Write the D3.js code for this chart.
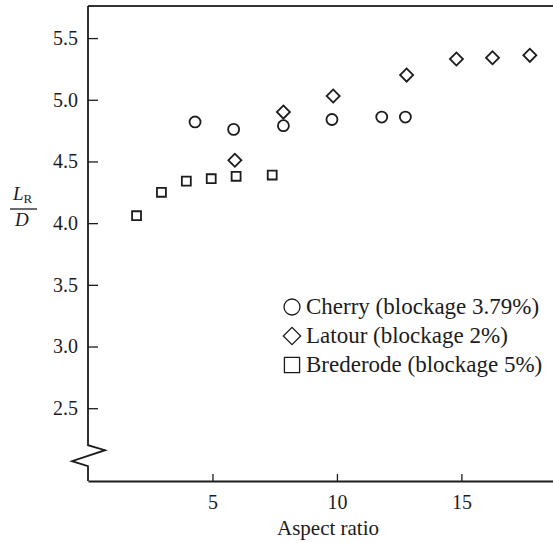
<!DOCTYPE html>
<html>
<head>
<meta charset="utf-8">
<script src="https://cdn.jsdelivr.net/npm/d3@7"></script>
<style>
  html, body { margin: 0; padding: 0; background: #fff; }
  svg { display: block; }
  svg text { font-family: "Liberation Serif", "Times New Roman", Tinos, "DejaVu Serif", "Noto Serif", serif; }
</style>
</head>
<body>
<svg id="chart" width="553" height="543"></svg>
<script>
// Data
const cherryX = [4.3, 5.85, 7.85, 9.8, 11.8, 12.75];
const cherryY = [4.82, 4.76, 4.79, 4.84, 4.86, 4.86];
const latourX = [5.9, 7.85, 9.85, 12.8, 14.8, 16.25, 17.75];
const latourY = [4.51, 4.90, 5.03, 5.20, 5.33, 5.34, 5.36];
const brederodeX = [1.95, 2.95, 3.95, 4.95, 5.95, 7.4];
const brederodeY = [4.06, 4.25, 4.34, 4.36, 4.38, 4.39];

const xTicks = [5, 10, 15];
const yTicks = [2.5, 3.0, 3.5, 4.0, 4.5, 5.0, 5.5];

const legendLabels = [
  'Cherry (blockage 3.79%)',
  'Latour (blockage 2%)',
  'Brederode (blockage 5%)'
];

const ink = '#1c1c1c';
const W = 553, H = 543;
const plotLeft = 88, plotTop = 6, plotBottom = 481;

const svg = d3.select('#chart');

const x = d3.scaleLinear().domain([0, 18.68]).range([plotLeft, W]);
const y = d3.scaleLinear().domain([1.91, 5.76]).range([plotBottom, plotTop]);

// Top frame line
svg.append('line')
  .attr('x1', plotLeft).attr('x2', W)
  .attr('y1', plotTop).attr('y2', plotTop)
  .attr('stroke', '#333').attr('stroke-width', 2);

// X axis
const xAxis = svg.append('g')
  .attr('transform', `translate(0,${plotBottom})`)
  .call(d3.axisBottom(x).tickValues(xTicks).tickFormat(d3.format('d'))
    .tickSizeInner(-7).tickSizeOuter(0).tickPadding(14));
xAxis.attr('font-family', null);
xAxis.select('.domain').attr('stroke', ink).attr('stroke-width', 2);
xAxis.selectAll('.tick line').attr('stroke', ink).attr('stroke-width', 1.3);
xAxis.selectAll('text')
  .attr('fill', ink)
  .attr('font-size', 20);

// Y axis
const yAxis = svg.append('g')
  .attr('transform', `translate(${plotLeft},0)`)
  .call(d3.axisLeft(y).tickValues(yTicks).tickFormat(d3.format('.1f'))
    .tickSizeInner(-10).tickSizeOuter(0).tickPadding(10));
yAxis.attr('font-family', null);
yAxis.select('.domain').remove();
yAxis.selectAll('.tick line').attr('stroke', ink).attr('stroke-width', 1.3);
yAxis.selectAll('text')
  .attr('fill', ink)
  .attr('font-size', 20);

// Y axis line with the break symbol
const yb = y(2.2);
const brk = d3.path();
brk.moveTo(plotLeft, plotTop);
brk.lineTo(plotLeft, yb);
brk.lineTo(plotLeft + 17, yb + 5);
brk.lineTo(plotLeft - 16, yb + 16);
brk.lineTo(plotLeft, yb + 21);
brk.lineTo(plotLeft, plotBottom);
svg.append('path')
  .attr('d', brk.toString())
  .attr('fill', 'none')
  .attr('stroke', ink)
  .attr('stroke-width', 1.8)
  .attr('stroke-linejoin', 'miter');

// Marker shapes
const circleSym = d3.symbol().type(d3.symbolCircle);
const diamondSym = d3.symbol().type(d3.symbolSquare);
const squareSym = d3.symbol().type(d3.symbolSquare);

function drawSeries(xs, ys, sym, size, rot) {
  svg.append('g').selectAll('path')
    .data(xs.map((v, i) => [v, ys[i]]))
    .join('path')
    .attr('d', sym.size(size)())
    .attr('transform', d => `translate(${x(d[0])},${y(d[1])}) rotate(${rot})`)
    .attr('fill', 'none')
    .attr('stroke', ink)
    .attr('stroke-width', 1.8);
}

drawSeries(cherryX, cherryY, circleSym, 95, 0);
drawSeries(latourX, latourY, diamondSym, 85, 45);
drawSeries(brederodeX, brederodeY, squareSym, 80, 0);

// Y label: L_R / D
const yl = svg.append('g').attr('fill', ink);
const lr = yl.append('text')
  .attr('x', 13).attr('y', 200)
  .attr('font-size', 19);
lr.append('tspan').attr('font-style', 'italic').text('L');
lr.append('tspan').attr('font-size', 13).attr('dy', 3).text('R');
yl.append('line')
  .attr('x1', 10).attr('x2', 37)
  .attr('y1', 209).attr('y2', 209)
  .attr('stroke', ink).attr('stroke-width', 1.3);
yl.append('text')
  .attr('x', 15).attr('y', 226)
  .attr('font-size', 19)
  .attr('font-style', 'italic')
  .text('D');

// X label
svg.append('text')
  .attr('x', 328).attr('y', 535)
  .attr('text-anchor', 'middle')
  .attr('font-size', 21)
  .attr('fill', ink)
  .text('Aspect ratio');

// Legend
const legendSyms = [
  { sym: circleSym, size: 200, rot: 0 },
  { sym: diamondSym, size: 150, rot: 45 },
  { sym: squareSym, size: 230, rot: 0 }
];
const lg = svg.append('g').attr('transform', 'translate(292,307)');
legendLabels.forEach((label, i) => {
  const row = lg.append('g').attr('transform', `translate(0,${i * 29})`);
  const s = legendSyms[i];
  row.append('path')
    .attr('d', s.sym.size(s.size)())
    .attr('transform', `rotate(${s.rot})`)
    .attr('fill', 'none')
    .attr('stroke', ink)
    .attr('stroke-width', 1.3);
  row.append('text')
    .attr('x', 14).attr('y', 7)
    .attr('font-size', 23)
    .attr('fill', ink)
    .text(label);
});
</script>
</body>
</html>
